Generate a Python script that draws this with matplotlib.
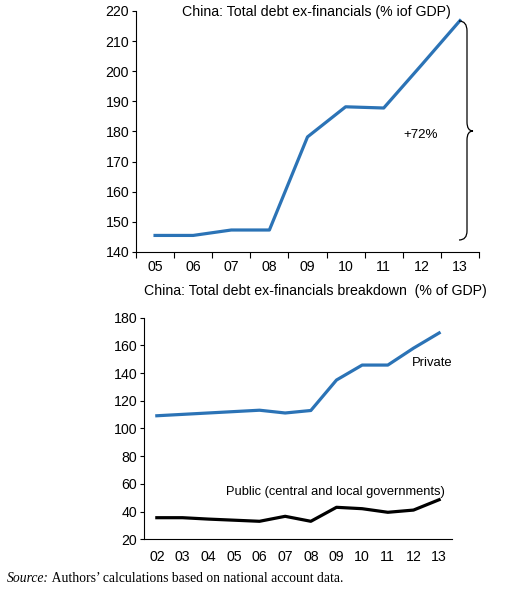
import matplotlib.pyplot as plt
import numpy as np
from matplotlib.path import Path
from matplotlib.patches import PathPatch

# Data
years_top = ["05", "06", "07", "08", "09", "10", "11", "12", "13"]
total_debt = [145.5, 145.5, 147.3, 147.3, 178.2, 188.2, 187.8, 202.2, 216.8]

years_bottom = ["02", "03", "04", "05", "06", "07", "08", "09", "10", "11", "12", "13"]
private_debt = [109.2, 110.2, 111.2, 112.2, 113.2, 111.2, 113.0, 135.0, 145.8, 145.8, 158.0, 169.0]
public_debt = [35.6, 35.6, 34.6, 33.8, 33.0, 36.6, 33.0, 43.1, 42.1, 39.5, 41.1, 48.6]

blue = "#2b73b6"
sans = ["Liberation Sans", "DejaVu Sans"]
serif = ["Liberation Serif", "DejaVu Serif"]
plt.rcParams['font.family'] = sans
plt.rcParams['font.size'] = 10.2

fig = plt.figure(figsize=(5.05, 5.9), dpi=100)
fx, fy = 1/505, 1/590   # pixel -> figure fraction

# ---- top chart
ax1 = fig.add_axes([136*fx, 1-252*fy, 343*fx, 241*fy])
x1 = np.arange(len(years_top))
ax1.plot(x1, total_debt, color=blue, lw=2.3)
ax1.set_xlim(-0.5, len(years_top) - 0.5)
ax1.set_ylim(140, 220)
ax1.set_yticks(np.arange(140, 221, 10))
ax1.set_xticks(x1)
ax1.set_xticklabels(years_top)
ax1.set_xticks(np.arange(-0.5, len(years_top), 1), minor=True)
ax1.tick_params(axis='x', which='major', length=0, pad=6)
ax1.tick_params(axis='x', which='minor', length=4, width=0.8)
ax1.tick_params(axis='y', length=3, width=0.8, pad=2)
for s in ['top', 'right']:
    ax1.spines[s].set_visible(False)
for s in ['left', 'bottom']:
    ax1.spines[s].set_linewidth(0.8)

fig.text(316*fx, 1-12*fy, "China: Total debt ex-financials (% iof GDP)",
         ha='center', va='center')

# curly brace to the right of the line
brace = Path(
    [(459*fx, 1-21*fy), (467*fx, 1-21*fy), (467*fx, 1-31*fy),
     (467*fx, 1-122*fy), (467*fx, 1-131*fy), (473*fx, 1-131*fy),
     (467*fx, 1-131*fy), (467*fx, 1-140*fy),
     (467*fx, 1-231*fy), (467*fx, 1-240*fy), (459*fx, 1-240*fy)],
    [Path.MOVETO, Path.CURVE3, Path.CURVE3,
     Path.LINETO, Path.CURVE3, Path.CURVE3,
     Path.CURVE3, Path.CURVE3,
     Path.LINETO, Path.CURVE3, Path.CURVE3])
fig.add_artist(PathPatch(brace, transform=fig.transFigure, fill=False,
                         edgecolor='black', lw=0.9))
fig.text(421*fx, 1-135*fy, "+72%", ha='center', va='center', fontsize=9.6)

# ---- bottom chart
ax2 = fig.add_axes([144*fx, 1-539.3*fy, 308*fx, 221.6*fy])
x2 = np.arange(len(years_bottom))
ax2.plot(x2, private_debt, color=blue, lw=2.3)
ax2.plot(x2, public_debt, color='black', lw=2.3)
ax2.set_xlim(-0.5, len(years_bottom) - 0.5)
ax2.set_ylim(20, 180)
ax2.set_yticks(np.arange(20, 181, 20))
ax2.set_xticks(x2)
ax2.set_xticklabels(years_bottom)
ax2.tick_params(axis='x', length=0, pad=8)
ax2.tick_params(axis='y', length=3, width=0.8, pad=2)
for s in ['top', 'right']:
    ax2.spines[s].set_visible(False)
for s in ['left', 'bottom']:
    ax2.spines[s].set_linewidth(0.8)

fig.text(315*fx, 1-291*fy, "China: Total debt ex-financials breakdown  (% of GDP)",
         ha='center', va='center')
fig.text(432*fx, 1-363*fy, "Private", ha='center', va='center', fontsize=9.4)
fig.text(335*fx, 1-492*fy, "Public (central and local governments)",
         ha='center', va='center', fontsize=9.3)

# source line
t = fig.text(7*fx, 1-578*fy, "Source:", family=serif, style='italic',
             ha='left', va='center', fontsize=9.8)
ax2.annotate(" Authors\u2019 calculations based on national account data.",
             xy=(1, 0), xycoords=t, va='bottom', ha='left',
             family=serif, fontsize=9.8, annotation_clip=False)

fig.savefig("out.png", dpi=100)
